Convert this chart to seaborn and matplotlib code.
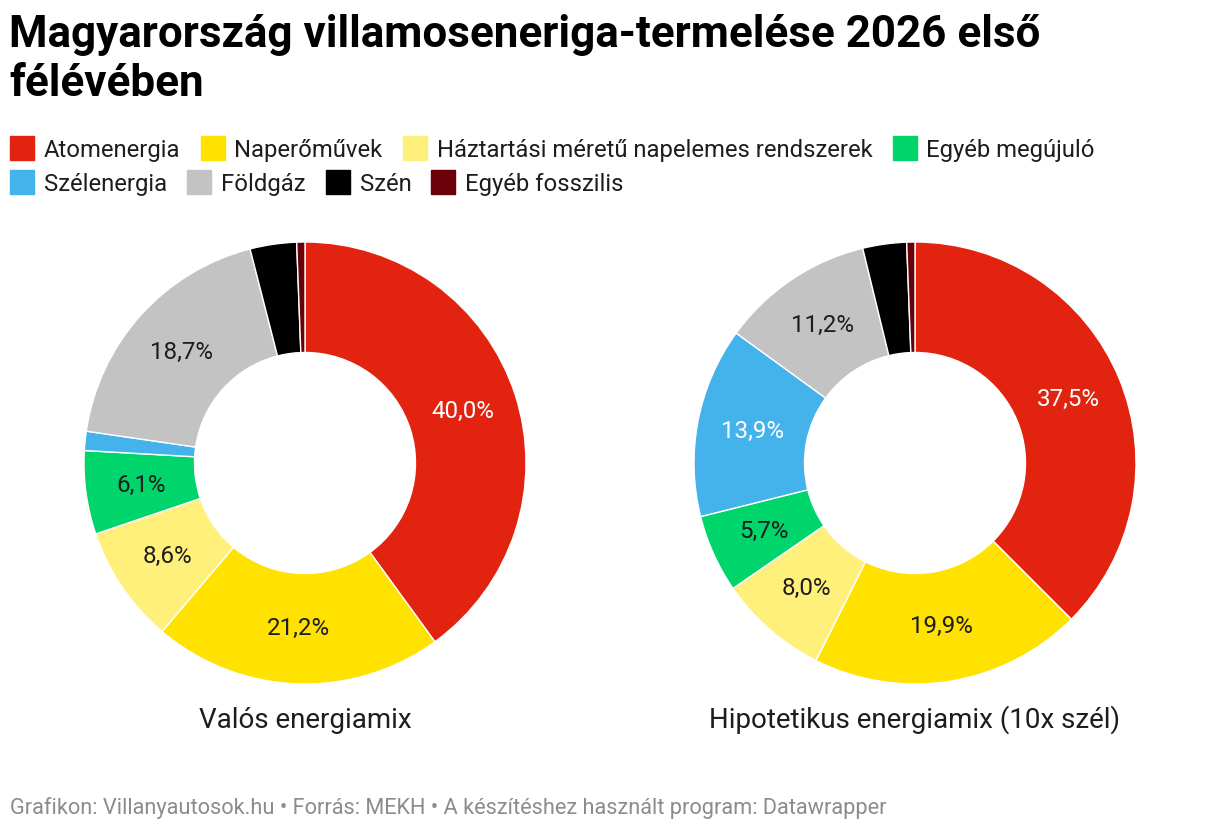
import matplotlib
matplotlib.use("Agg")
import matplotlib.pyplot as plt
from matplotlib.patches import Rectangle
import seaborn as sns

# Data
categories = ["Atomenergia", "Naperőművek", "Háztartási méretű napelemes rendszerek",
              "Egyéb megújuló", "Szélenergia", "Földgáz", "Szén", "Egyéb fosszilis"]
# pie order (clockwise from top)
pie_order = ["Atomenergia", "Naperőművek", "Háztartási méretű napelemes rendszerek",
             "Egyéb megújuló", "Szélenergia", "Földgáz", "Szén", "Egyéb fosszilis"]
real_mix = [40.0, 21.2, 8.6, 6.1, 1.4, 18.7, 3.4, 0.6]
hypo_mix = [37.5, 19.9, 8.0, 5.7, 13.9, 11.2, 3.2, 0.6]
colors = ["#e2230f", "#ffe200", "#fff07c", "#00d56b", "#45b3eb", "#c3c3c3", "#000000", "#6b000a"]
white_labels = ["Atomenergia", "Szélenergia"]
pie_titles = ["Valós energiamix", "Hipotetikus energiamix (10x szél)"]

title = "Magyarország villamoseneriga-termelése 2026 első\nfélévében"
footer = "Grafikon: Villanyautosok.hu • Forrás: MEKH • A készítéshez használt program: Datawrapper"

sns.set_theme(style="white")
plt.rcParams['font.family'] = ['Roboto', 'DejaVu Sans']

W, H = 1220, 832
fig = plt.figure(figsize=(W / 100, H / 100), dpi=100)
fig.patch.set_facecolor("white")


def px(x, y):
    return x / W, 1 - y / H


# Title
fig.text(*px(9, 14), title, fontsize=31.7, fontweight="bold", color="#000000",
         va="top", ha="left", linespacing=1.2)

# Legend (flow layout)
renderer = fig.canvas.get_renderer()
rows = [categories[:4], categories[4:]]
row_y = [148, 182]
for row, yc in zip(rows, row_y):
    x = 10
    for cat in row:
        col = colors[categories.index(cat)]
        fig.patches.append(Rectangle(px(x, yc + 12), 24 / W, 24 / H, color=col,
                                     transform=fig.transFigure, figure=fig))
        t = fig.text(*px(x + 34, yc), cat, fontsize=17.2, color="#1d1d1d",
                     va="center_baseline", ha="left")
        bb = t.get_window_extent(renderer)
        x = x + 34 + bb.width + 20

# Donuts
centers = [305, 915]
cy, r = 463, 221
for cx, vals, name in zip(centers, [real_mix, hypo_mix], pie_titles):
    l, b = (cx - r) / W, (H - cy - r) / H
    ax = fig.add_axes([l, b, 2 * r / W, 2 * r / H])
    wedges, texts, autotexts = ax.pie(
        vals, colors=colors, startangle=90, counterclock=False,
        autopct=lambda p: f"{p:.1f}%".replace(".", ",") if p >= 4 else "",
        pctdistance=0.75,
        wedgeprops=dict(width=0.5, edgecolor="white", linewidth=1),
        textprops=dict(fontsize=17.4, color="#1d1d1d"))
    for cat, at in zip(pie_order, autotexts):
        if cat in white_labels:
            at.set_color("white")
    ax.set_xlim(-1, 1)
    ax.set_ylim(-1, 1)
    ax.set_aspect("equal")
    ax.axis("off")
    fig.text(*px(cx, 720), name, fontsize=20, color="#1d1d1d", ha="center", va="center")

# Footer
fig.text(*px(10, 808), footer, fontsize=15.7, color="#8c8c8c", ha="left", va="center")

fig.savefig("out.png", dpi=100)
